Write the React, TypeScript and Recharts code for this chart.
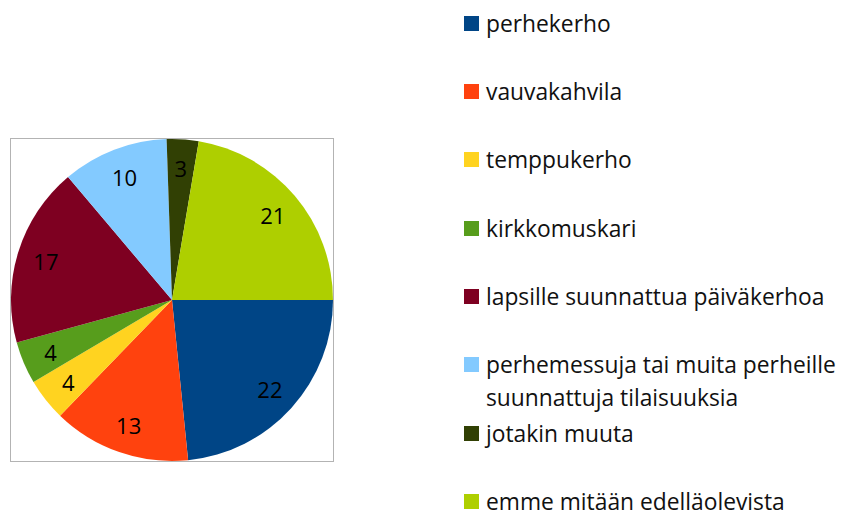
import React from 'react';
import { PieChart, Pie, Cell, Legend } from 'recharts';

const categories = [
  'perhekerho',
  'vauvakahvila',
  'temppukerho',
  'kirkkomuskari',
  'lapsille suunnattua päiväkerhoa',
  'perhemessuja tai muita perheille suunnattuja tilaisuuksia',
  'jotakin muuta',
  'emme mitään edelläolevista',
];
const values = [22, 13, 4, 4, 17, 10, 3, 21];
const colors = ['#004586', '#ff420e', '#ffd320', '#579d1c', '#7e0021', '#83caff', '#314004', '#aecf00'];

const data = categories.map((name, i) => ({ name, value: values[i] }));

const FONT = '"Open Sans", sans-serif';
const RAD = Math.PI / 180;

const renderLabel = (props: any) => {
  const { cx, cy, midAngle, outerRadius, value } = props;
  const r = outerRadius * 0.82;
  const x = cx + r * Math.cos(-midAngle * RAD);
  const y = cy + r * Math.sin(-midAngle * RAD);
  return (
    <text x={x} y={y} textAnchor="middle" dominantBaseline="central" fill="#000" fontSize={22} fontFamily={FONT}>
      {value}
    </text>
  );
};

const renderLegend = () => (
  <div style={{ fontFamily: FONT, fontSize: 22.8, color: '#111' }}>
    {categories.map((name, i) => {
      const lh = i === 5 ? 33 : 27;
      return (
        <div
          key={name}
          style={{
            height: 68.4,
            boxSizing: 'border-box',
            paddingTop: (33 - lh) / 2,
            display: 'flex',
            alignItems: 'flex-start',
          }}
        >
          <div style={{ width: 15, height: 15, background: colors[i], marginTop: (lh - 15) / 2, flexShrink: 0 }} />
          <div style={{ marginLeft: 7, lineHeight: `${lh}px`, width: 359, whiteSpace: 'normal' }}>{name}</div>
        </div>
      );
    })}
  </div>
);

export default function App() {
  return (
    <div style={{ position: 'absolute', left: 0, top: 0, width: 845, height: 514, background: '#fff' }}>
      <div
        style={{
          position: 'absolute',
          left: 10,
          top: 138,
          width: 322,
          height: 322,
          border: '1.5px solid #b3b3b3',
        }}
      />
      <PieChart
        width={845}
        height={514}
        margin={{ top: 0, right: 0, bottom: 0, left: 0 }}
        style={{ position: 'absolute', left: 0, top: 0 }}
      >
        <Pie
          data={data}
          dataKey="value"
          nameKey="name"
          cx={172}
          cy={300}
          outerRadius={161}
          startAngle={0}
          endAngle={-360}
          stroke="none"
          label={renderLabel}
          labelLine={false}
          isAnimationActive={false}
        >
          {data.map((d, i) => (
            <Cell key={d.name} fill={colors[i]} />
          ))}
        </Pie>
        <Legend
          content={renderLegend}
          layout="vertical"
          wrapperStyle={{ position: 'absolute', left: 464, top: 6.5, width: 381 }}
        />
      </PieChart>
    </div>
  );
}
